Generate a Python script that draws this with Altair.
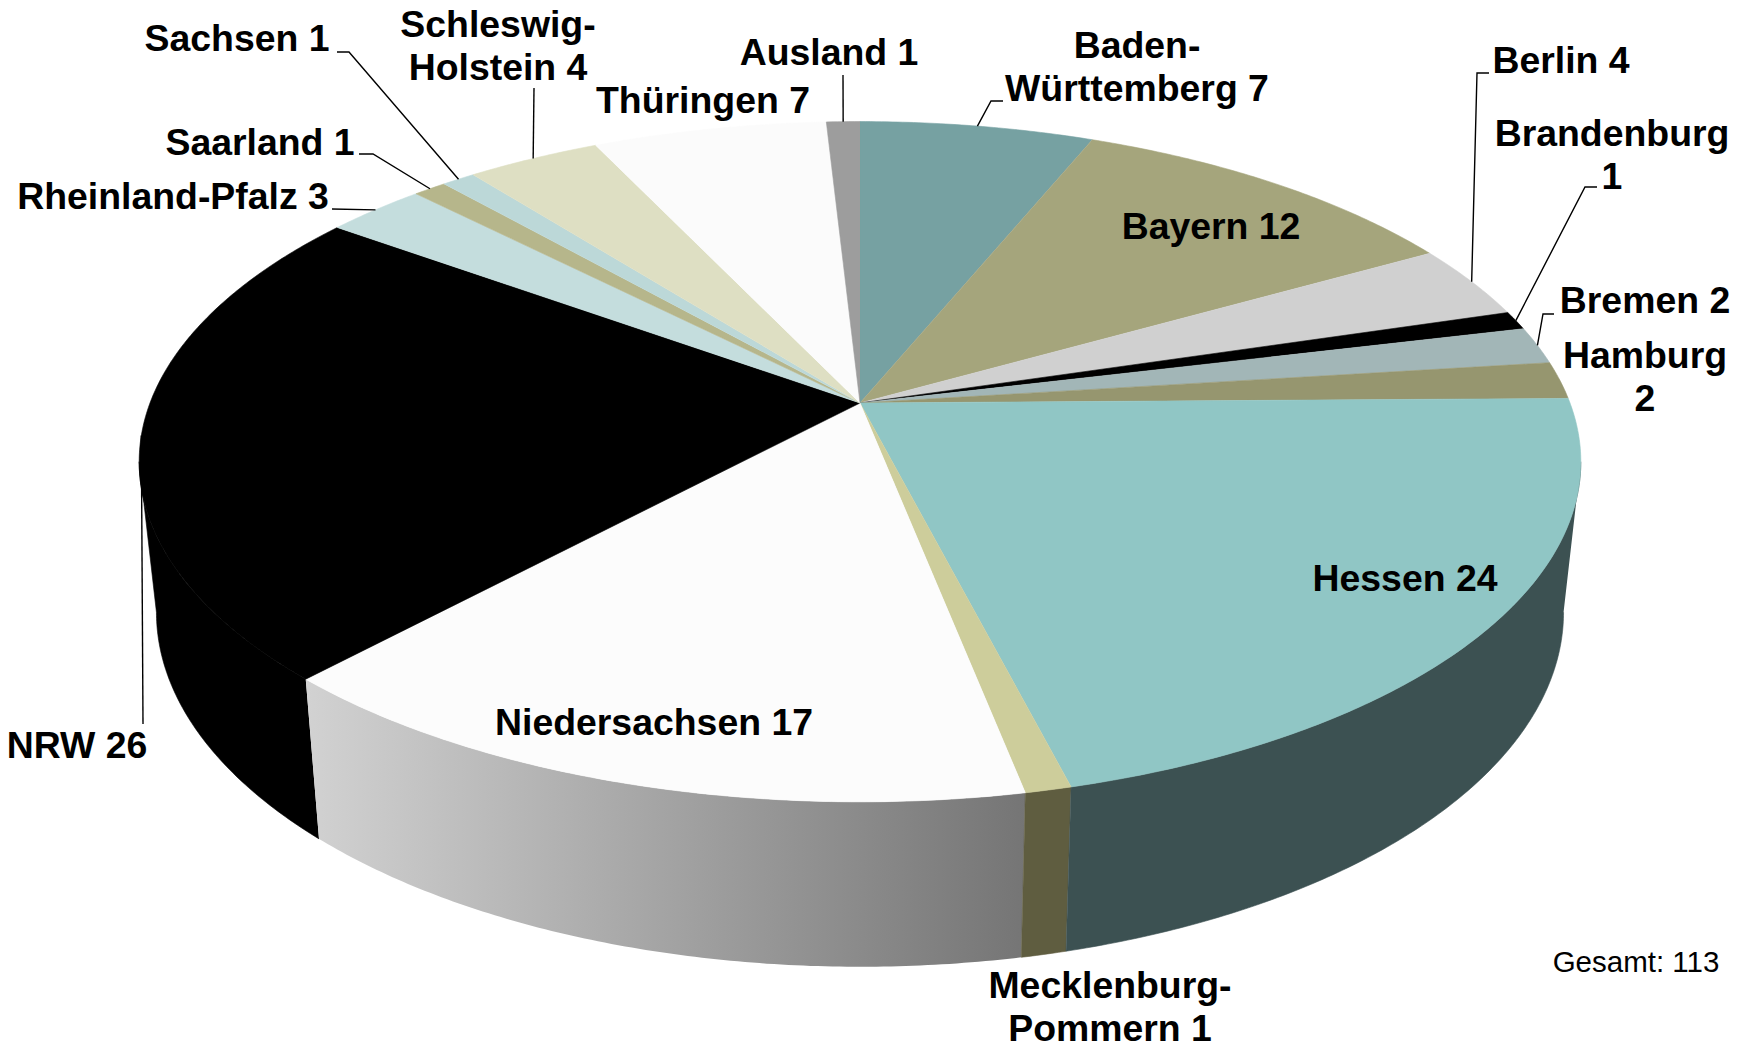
import math
import altair as alt
import pandas as pd

# ---- chart values -------------------------------------------------------
states = ["Baden-Württemberg", "Bayern", "Berlin", "Brandenburg", "Bremen", "Hamburg",
          "Hessen", "Mecklenburg-Pommern", "Niedersachsen", "NRW", "Rheinland-Pfalz",
          "Saarland", "Sachsen", "Schleswig-Holstein", "Thüringen", "Ausland"]
counts = [7, 12, 4, 1, 2, 2, 24, 1, 17, 26, 3, 1, 1, 4, 7, 1]
top_colors = ["#76a1a2", "#a5a57c", "#d0d0d0", "#000000", "#a2b6b7", "#96966f",
              "#90c6c5", "#cdcd9b", "#fcfcfc", "#000000", "#c4dddd", "#b6b68b",
              "#bcd8d8", "#dedfc3", "#fbfbfb", "#9d9d9d"]
wall_colors = {"Hessen": "#3c5152", "Mecklenburg-Pommern": "#5f5d40", "NRW": "#000000"}
nieder_stops = ["#d2d2d2", "#757575"]

label_rows = [
    ["Ausland 1"], ["Baden-", "Württemberg 7"], ["Berlin 4"], ["Brandenburg", "1"],
    ["Bremen 2"], ["Hamburg", "2"], ["Bayern 12"], ["Hessen 24"],
    ["Mecklenburg-", "Pommern 1"], ["Niedersachsen 17"], ["NRW 26"],
    ["Rheinland-Pfalz 3"], ["Saarland 1"], ["Sachsen 1"], ["Schleswig-", "Holstein 4"],
    ["Thüringen 7"],
]
label_xy = [(829, 53), (1137, 67), (1561, 61), (1612, 155), (1645, 301), (1645, 377),
            (1211, 227), (1405, 579), (1110, 1007), (654, 723), (77, 746), (173, 197),
            (260, 143), (237, 39), (498, 46), (703, 101)]
label_step = 43
total_text = "Gesamt: 113"
total_xy = (1636, 962)

# leader lines: state -> label-side points, last point is the slice rim
leaders = {
    "Sachsen": [(337, 51), (349, 51)],
    "Saarland": [(359, 153), (373, 153)],
    "Rheinland-Pfalz": [(332, 208)],
    "Schleswig-Holstein": [(534, 87)],
    "Ausland": [(843, 74)],
    "Baden-Württemberg": [(1003, 100), (991, 100)],
    "Berlin": [(1489, 72), (1477, 72)],
    "Brandenburg": [(1597, 186), (1585, 186)],
    "Bremen": [(1554, 313), (1543, 313)],
    "NRW": [(143, 723)],
}

# ---- perspective of the disc -------------------------------------------
CX, CY, A, B, P = 860.0, 402.0, 710.0, 330.0, 0.1726
CY2, A2, B2 = 550.0, 693.0, 344.0
total = sum(counts)


def project(deg, lower=False):
    t = math.radians(deg)
    u, v = math.sin(t), -math.cos(t)
    w = 1 - P * v
    if lower:
        return CX + A2 * u / w, CY2 + B2 * v / w
    return CX + A * u / w, CY + B * v / w


def arc(d0, d1, lower=False):
    n = max(2, int(abs(d1 - d0) * 2))
    return [project(d0 + (d1 - d0) * i / n, lower) for i in range(n + 1)]


def frame(points):
    return pd.DataFrame({"x": [p[0] for p in points], "y": [p[1] for p in points],
                         "i": list(range(len(points)))})


x_enc = alt.X("x:Q", axis=None, scale=alt.Scale(domain=[8, 1742], nice=False, zero=False))
y_enc = alt.Y("y:Q", axis=None, scale=alt.Scale(domain=[7, 1041], nice=False, zero=False, reverse=True))


def poly(points, fill, stroke=None):
    kw = {"stroke": stroke, "strokeWidth": 0.6} if stroke else {"strokeOpacity": 0, "stroke": "#000000"}
    return alt.Chart(frame(points)).mark_line(fill=fill, interpolate="linear", clip=False, **kw).encode(
        x=x_enc, y=y_enc, order=alt.Order("i:Q"))


angles = {}
c = 0
for s, n in zip(states, counts):
    angles[s] = (c / total * 360, (c + n) / total * 360)
    c += n

tangent = math.degrees(math.asin(P))
layers = []


def wall(d0, d1, fill, stroke=None):
    return poly(arc(d0, d1) + arc(d1, d0, True), fill, stroke)


a = angles["NRW"]
layers.append(wall(a[0], 270 - tangent, wall_colors["NRW"], wall_colors["NRW"]))
a = angles["Niedersachsen"]
layers.append(wall(a[0], a[1], alt.Gradient(
    gradient="linear", x1=1, x2=0, y1=0, y2=0,
    stops=[alt.GradientStop(color=nieder_stops[1], offset=0),
           alt.GradientStop(color=nieder_stops[0], offset=1)])))
a = angles["Mecklenburg-Pommern"]
layers.append(wall(a[0], a[1], wall_colors["Mecklenburg-Pommern"], wall_colors["Mecklenburg-Pommern"]))
a = angles["Hessen"]
layers.append(wall(90 + tangent, a[1], wall_colors["Hessen"], wall_colors["Hessen"]))

for s, col in zip(states, top_colors):
    d0, d1 = angles[s]
    layers.append(poly([(CX, CY)] + arc(d0, d1), col, col))

for s, pts in leaders.items():
    d0, d1 = angles[s]
    path = pts + [project((d0 + d1) / 2)]
    layers.append(alt.Chart(frame(path)).mark_line(color="#000000", strokeWidth=1.4).encode(
        x=x_enc, y=y_enc, order=alt.Order("i:Q")))

rows = []
for lines, (lx, ly) in zip(label_rows, label_xy):
    y0 = ly - (len(lines) - 1) * label_step / 2
    for k, line in enumerate(lines):
        rows.append({"x": lx, "y": y0 + k * label_step, "text": line})
layers.append(alt.Chart(pd.DataFrame(rows)).mark_text(
    font="Liberation Sans", fontWeight="bold", fontSize=37.4, color="#000000", align="center", baseline="middle"
).encode(x=x_enc, y=y_enc, text="text:N"))
layers.append(alt.Chart(pd.DataFrame([{"x": total_xy[0], "y": total_xy[1], "text": total_text}])).mark_text(
    font="Liberation Sans", fontSize=29.5, color="#000000", align="center", baseline="middle"
).encode(x=x_enc, y=y_enc, text="text:N"))

chart = alt.layer(*layers).properties(
    width=1734, height=1034, padding=0, autosize=alt.AutoSizeParams(type="none"), background="#ffffff"
).configure_view(stroke=None)

chart.save("out.html", embed_options={"renderer": "svg", "actions": False})
